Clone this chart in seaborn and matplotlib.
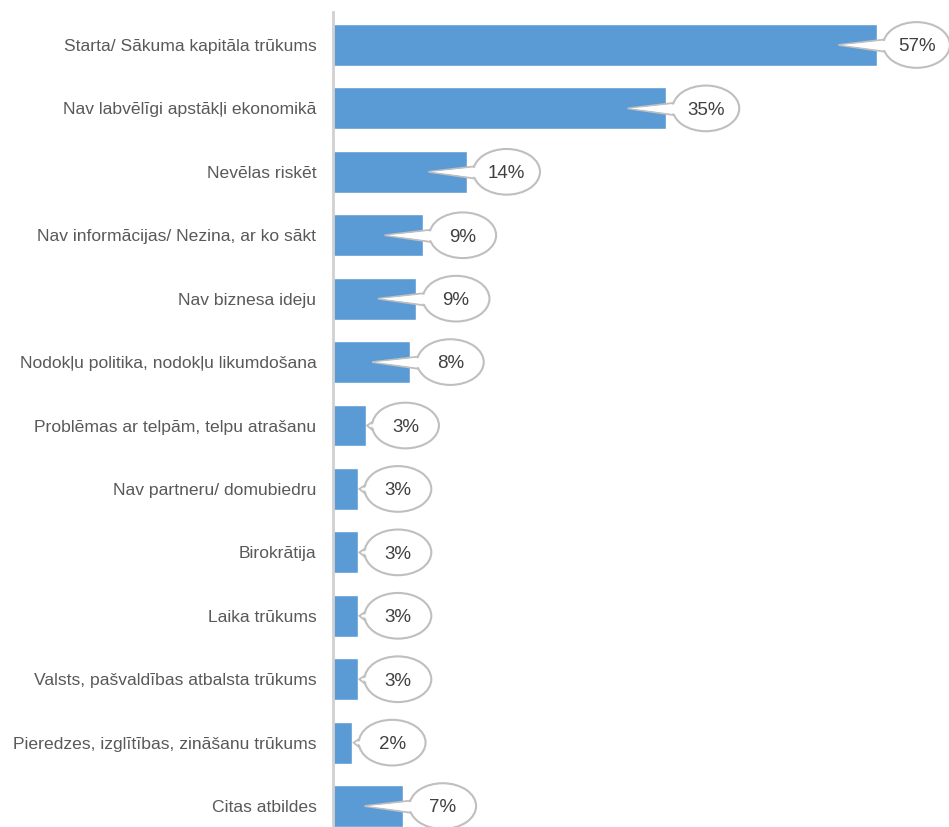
import matplotlib
matplotlib.use("Agg")
import matplotlib.pyplot as plt
import seaborn as sns
import pandas as pd
from matplotlib.patches import Ellipse, Polygon

# data (share of respondents, %)
categories = [
    "Starta/ Sākuma kapitāla trūkums",
    "Nav labvēlīgi apstākļi ekonomikā",
    "Nevēlas riskēt",
    "Nav informācijas/ Nezina, ar ko sākt",
    "Nav biznesa ideju",
    "Nodokļu politika, nodokļu likumdošana",
    "Problēmas ar telpām, telpu atrašanu",
    "Nav partneru/ domubiedru",
    "Birokrātija",
    "Laika trūkums",
    "Valsts, pašvaldības atbalsta trūkums",
    "Pieredzes, izglītības, zināšanu trūkums",
    "Citas atbildes",
]
values = [57.0, 34.9, 14.0, 9.4, 8.7, 8.1, 3.4, 2.6, 2.6, 2.6, 2.6, 2.0, 7.3]
labels = [f"{round(v)}%" for v in values]

df = pd.DataFrame({"category": categories, "value": values})

sns.set_style("white")
plt.rcParams["font.family"] = ["Liberation Sans", "DejaVu Sans"]

fig = plt.figure(figsize=(9.49, 8.27), dpi=100)
ax = fig.add_axes([0.351, 0.0, 0.649, 0.9855])

sns.barplot(data=df, x="value", y="category", orient="h", color="#5B9BD5",
            width=0.66, saturation=1, ax=ax)

ax.set_xlim(0, 64.6)
ax.set_ylim(12.33, -0.52)
ax.set_xlabel("")
ax.set_ylabel("")
ax.set_xticks([])
ax.tick_params(axis="y", length=0, pad=12, labelsize=12.6, labelcolor="#595959")
for side in ["top", "right", "bottom"]:
    ax.spines[side].set_visible(False)
ax.spines["left"].set_color("#D0D0D0")
ax.spines["left"].set_linewidth(2)

# callout bubbles
ew, eh = 7.0, 0.72
edge = "#BFBFBF"
for i, (v, lab) in enumerate(zip(values, labels)):
    cx = v + 4.2
    tip = v - 4 if v - 4 > 3 else v + 0.15
    bx = cx - ew * 0.45
    tail = [(tip, i), (bx, i - 0.09), (bx, i + 0.11)]
    ax.add_patch(Polygon(tail, closed=True, facecolor="white", edgecolor=edge,
                         linewidth=1.3, zorder=4))
    ax.add_patch(Ellipse((cx, i), ew, eh, facecolor="white", edgecolor=edge,
                         linewidth=1.5, zorder=5, clip_on=False))
    inner = [(tip + 0.3, i), (bx + 0.3, i - 0.07), (bx + 0.3, i + 0.09)]
    ax.add_patch(Polygon(inner, closed=True, facecolor="white", edgecolor="none",
                         zorder=6))
    ax.text(cx, i + 0.03, lab, ha="center", va="center", fontsize=13.5,
            color="#404040", zorder=7)

fig.savefig("out.png", dpi=100)
